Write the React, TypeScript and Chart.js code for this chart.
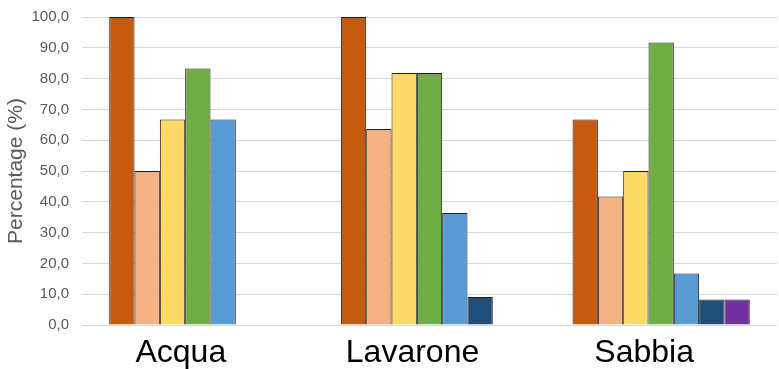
import React, { useEffect, useRef } from "react";
import { Chart, registerables } from "chart.js";

Chart.register(...registerables);

const categories = ["Acqua", "Lavarone", "Sabbia"];
const seriesNames = ["Serie 1", "Serie 2", "Serie 3", "Serie 4", "Serie 5", "Serie 6", "Serie 7"];
const serie1 = [100.0, 100.0, 66.7];
const serie2 = [50.0, 63.6, 41.7];
const serie3 = [66.7, 81.8, 50.0];
const serie4 = [83.3, 81.8, 91.7];
const serie5 = [66.7, 36.4, 16.7];
const serie6 = [0, 9.1, 8.3];
const serie7 = [0, 0, 8.3];
const yTitle = "Percentage (%)";

const seriesValues = [serie1, serie2, serie3, serie4, serie5, serie6, serie7];
const seriesColors = ["#C55A11", "#F4B183", "#FFD966", "#70AD47", "#5B9BD5", "#1F4E79", "#7030A0"];

const FONT = "'Liberation Sans', Arial, sans-serif";

export default function App() {
  const ref = useRef<HTMLCanvasElement | null>(null);

  useEffect(() => {
    if (!ref.current) return;
    const chart = new Chart(ref.current, {
      type: "bar",
      data: {
        labels: categories,
        datasets: seriesValues.map((vals, i) => ({
          label: seriesNames[i],
          data: vals,
          backgroundColor: seriesColors[i],
          borderColor: "#1e1e1e",
          borderWidth: 1,
          barPercentage: 1,
          categoryPercentage: 0.765,
        })),
      },
      options: {
        responsive: false,
        animation: false,
        devicePixelRatio: 1,
        layout: { padding: { top: 17, right: 2, left: 0, bottom: 0 } },
        plugins: {
          legend: { display: false },
          tooltip: { enabled: false },
        },
        scales: {
          x: {
            grid: { display: false },
            border: { display: false },
            ticks: {
              color: "#000000",
              font: { family: FONT, size: 32 },
              padding: 1,
              labelOffset: -17,
              maxRotation: 0,
            },
            afterFit: (scale: any) => {
              scale.height = 44;
              scale.paddingLeft = 0;
              scale.paddingRight = 0;
            },
          },
          y: {
            min: 0,
            max: 100,
            grid: { color: "#d9d9d9", drawTicks: false, lineWidth: 1 },
            border: { display: false },
            ticks: {
              stepSize: 10,
              color: "#595959",
              font: { family: FONT, size: 15 },
              padding: 13,
              callback: (v: any) => Number(v).toFixed(1).replace(".", ","),
            },
            title: {
              display: true,
              text: yTitle,
              color: "#595959",
              font: { family: FONT, size: 21 },
              padding: { top: 4, bottom: 4 },
            },
            afterFit: (scale: any) => {
              scale.width = 82;
              scale.paddingTop = 0;
              scale.paddingBottom = 0;
            },
          },
        },
      },
    });
    return () => chart.destroy();
  }, []);

  return (
    <div style={{ position: "fixed", left: 0, top: 0, width: 779, height: 369, background: "#fff" }}>
      <canvas ref={ref} width={779} height={369} style={{ width: 779, height: 369, display: "block" }} />
    </div>
  );
}
